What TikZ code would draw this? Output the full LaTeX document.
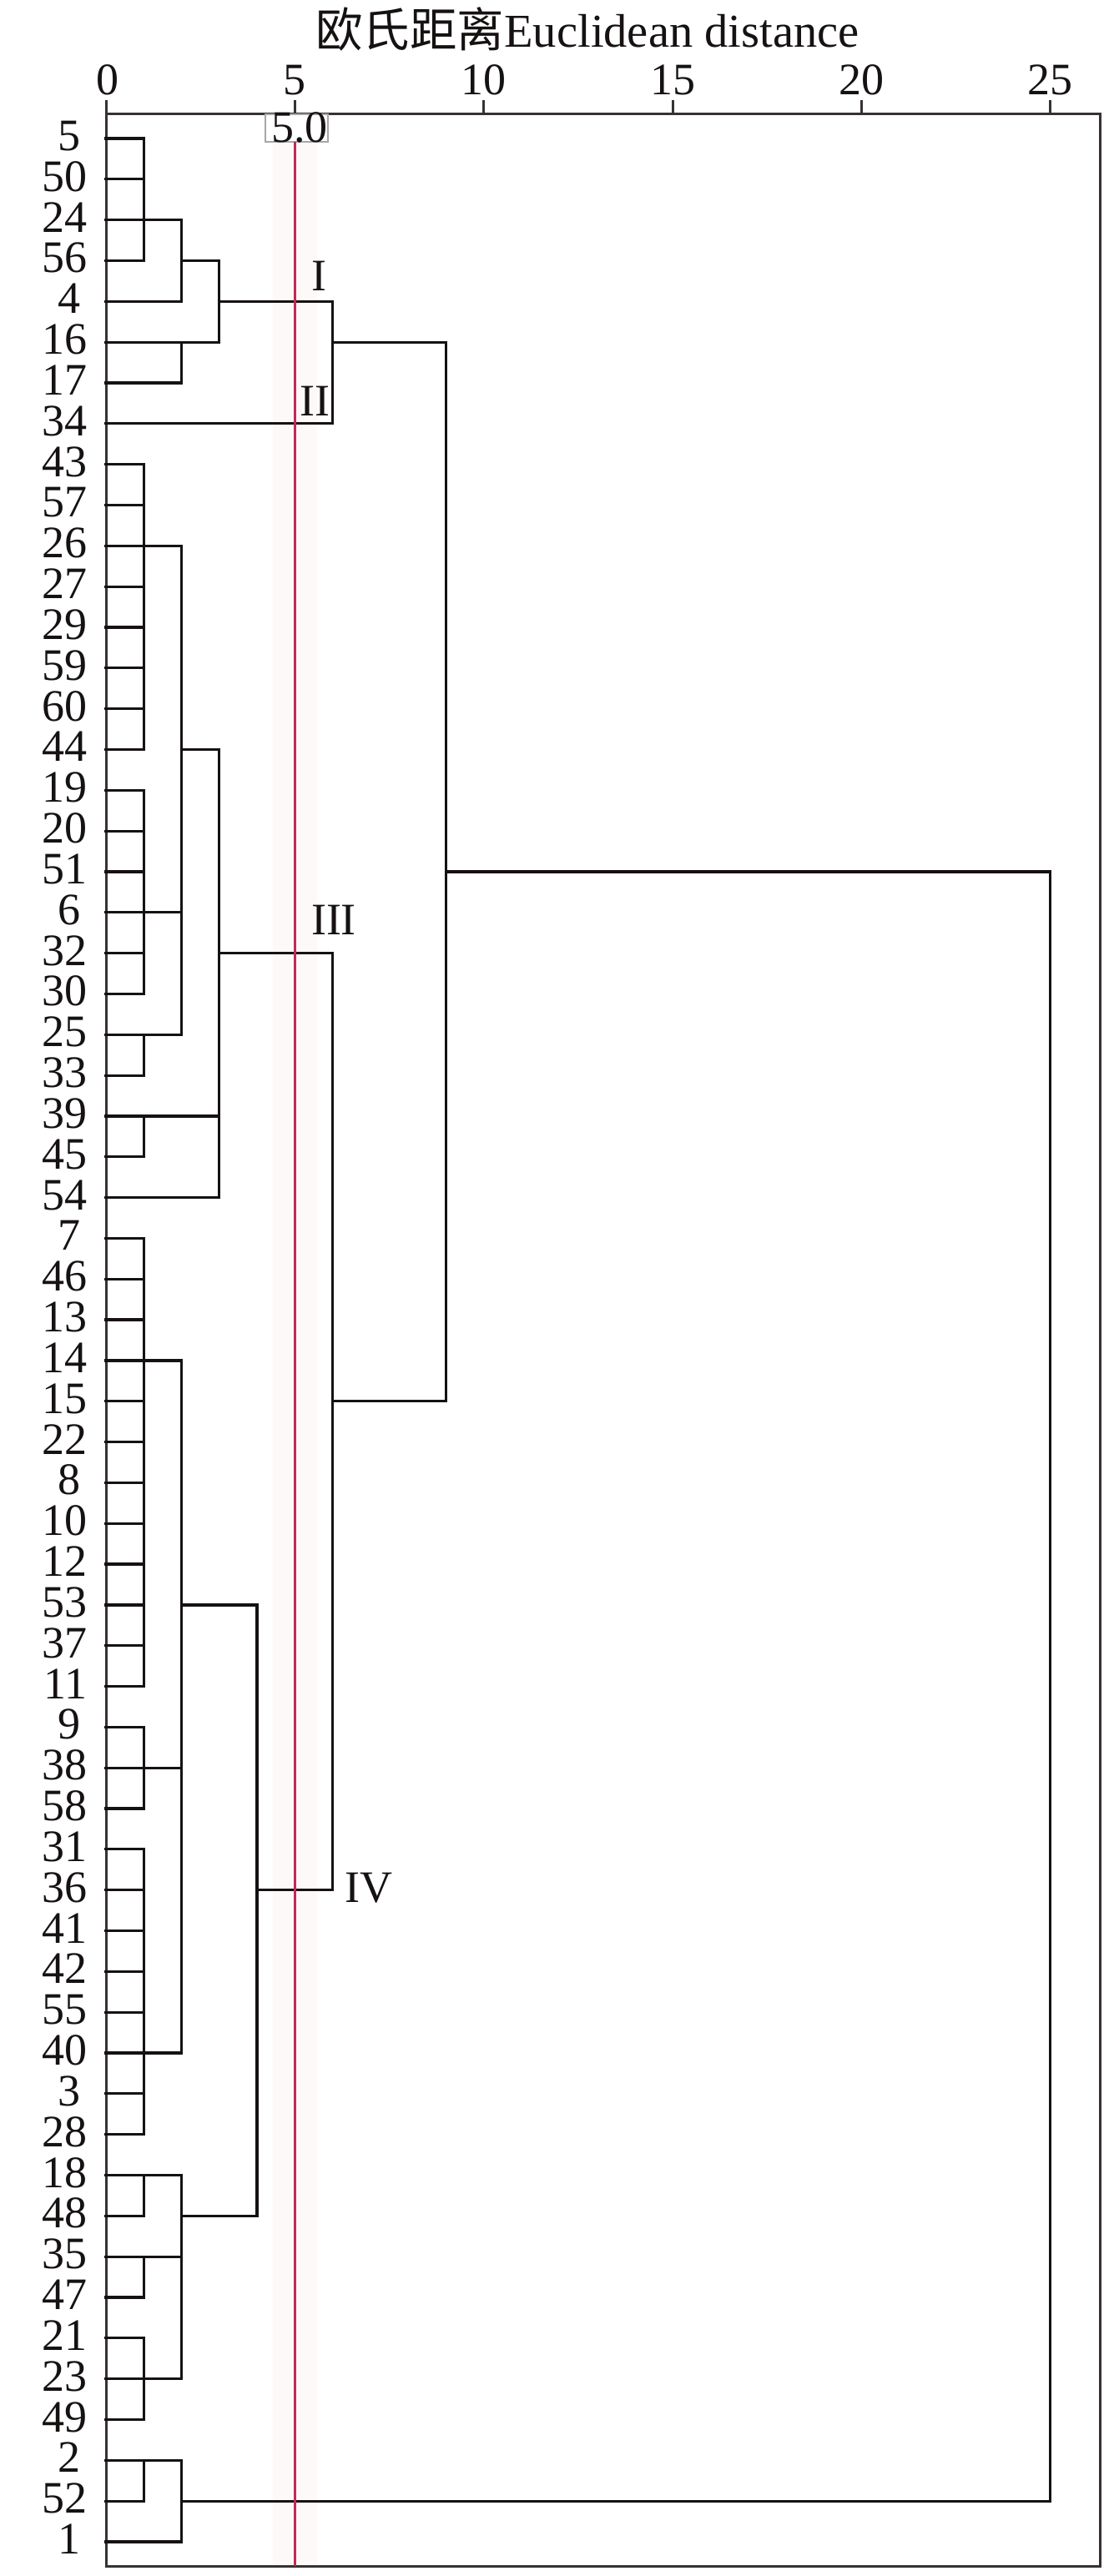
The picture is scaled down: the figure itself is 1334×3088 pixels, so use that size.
\documentclass[tikz,border=0pt]{standalone}
\usepackage{fontspec}
\setmainfont{Liberation Serif}
\newfontfamily\cjk{Noto Sans CJK SC}
\definecolor{redline}{RGB}{196,40,84}
\definecolor{bandc}{RGB}{253,249,249}
\definecolor{ink}{RGB}{22,18,18}
\definecolor{framec}{RGB}{55,50,50}
\newcommand\dhseg[3]{\draw[dl] ({127+45.27*(#1)},{166+48.83*(#3)}) -- ({127+45.27*(#2)},{166+48.83*(#3)});}
\newcommand\dvseg[3]{\draw[dl] ({127+45.27*(#1)},{166+48.83*(#2)}) -- ({127+45.27*(#1)},{166+48.83*(#3)});}
\begin{document}
\begin{tikzpicture}[x=1pt,y=-1pt,
  dl/.style={draw=ink,line width=3.2pt,line cap=rect},
  framel/.style={draw=framec,line width=3pt,line cap=rect},
  txt/.style={inner sep=0pt,font=\fontsize{54}{54}\selectfont,text=ink},
  leaf/.style={txt,anchor=base east},
  ticklab/.style={txt,anchor=base},
  roman/.style={txt,anchor=base}]
\useasboundingbox (0,0) rectangle (1334,3088);
\fill[white] (0,0) rectangle (1334,3088);
% faint band around the red line
\fill[bandc] (327,170) rectangle (380,3076);
% title
\node[txt,anchor=base] (title) at (704,57) {\fontsize{56.5}{56.5}\selectfont{\cjk 欧氏距离}Euclidean distance};
% frame and axis
\draw[framel] (127,122) -- (127,3076) -- (1318,3076) -- (1318,137) -- (127,137);
\foreach \t [count=\k from 1] in {5,10,15,20,25} {
  \draw[framel] ({127+45.27*\t},122) -- ({127+45.27*\t},137);
  \node[ticklab] (tick\k) at ({127+45.27*\t},114) {\t};
}
\node[ticklab] (tick0) at (129,114) {0};
% leaf labels
\foreach \lab [count=\i from 0] in {5,50,24,56,4,16,17,34,43,57,26,27,29,59,60,44,19,20,51,6,32,30,25,33,39,45,54,7,46,13,14,15,22,8,10,12,53,37,11,9,38,58,31,36,41,42,55,40,3,28,18,48,35,47,21,23,49,2,52,1} {
  \ifnum\lab<10
    \node[leaf] (L\i) at (97,{166+48.83*\i+14.5}) {\lab};
  \else
    \node[leaf] (L\i) at (105,{166+48.83*\i+14.5}) {\lab};
  \fi
}
% ---- cluster I / II
\foreach \r in {0,...,3} {\dhseg{0}{1}{\r}}
\dvseg{1}{0}{3}
\dhseg{1}{2}{2}
\dhseg{0}{2}{4}
\dvseg{2}{2}{4}
\dhseg{2}{3}{3}
\dhseg{0}{3}{5}
\dhseg{0}{2}{6}
\dvseg{2}{5}{6}
\dvseg{3}{3}{5}
\dhseg{3}{6}{4}
\dhseg{0}{6}{7}
\dvseg{6}{4}{7}
\dhseg{6}{9}{5}
% ---- cluster III
\foreach \r in {8,...,15} {\dhseg{0}{1}{\r}}
\dvseg{1}{8}{15}
\dhseg{1}{2}{10}
\foreach \r in {16,...,21} {\dhseg{0}{1}{\r}}
\dvseg{1}{16}{21}
\dhseg{1}{2}{19}
\dhseg{0}{2}{22}
\dhseg{0}{1}{23}
\dvseg{1}{22}{23}
\dvseg{2}{10}{22}
\dhseg{2}{3}{15}
\dhseg{0}{3}{24}
\dhseg{0}{1}{25}
\dvseg{1}{24}{25}
\dhseg{0}{3}{26}
\dvseg{3}{15}{26}
\dhseg{3}{6}{20}
% ---- cluster IV
\foreach \r in {27,...,38} {\dhseg{0}{1}{\r}}
\dvseg{1}{27}{38}
\dhseg{1}{2}{30}
\foreach \r in {39,...,41} {\dhseg{0}{1}{\r}}
\dvseg{1}{39}{41}
\dhseg{1}{2}{40}
\foreach \r in {42,...,49} {\dhseg{0}{1}{\r}}
\dvseg{1}{42}{49}
\dhseg{1}{2}{47}
\dvseg{2}{30}{47}
\dhseg{2}{4}{36}
\dhseg{0}{2}{50}
\dhseg{0}{1}{51}
\dvseg{1}{50}{51}
\dhseg{0}{2}{52}
\dhseg{0}{1}{53}
\dvseg{1}{52}{53}
\foreach \r in {54,...,56} {\dhseg{0}{1}{\r}}
\dvseg{1}{54}{56}
\dhseg{1}{2}{55}
\dvseg{2}{50}{55}
\dhseg{2}{4}{51}
\dvseg{4}{36}{51}
\dhseg{4}{6}{43}
\dvseg{6}{20}{43}
\dhseg{6}{9}{31}
\dvseg{9}{5}{31}
\dhseg{9}{25}{18}
% ---- last cluster
\dhseg{0}{2}{57}
\dhseg{0}{1}{58}
\dvseg{1}{57}{58}
\dhseg{0}{2}{59}
\dvseg{2}{57}{59}
\dhseg{2}{25}{58}
\dvseg{25}{18}{58}
% ---- cut line at 5.0
\draw[draw=gray!70,line width=1.6pt] (318,137) rectangle (393,170);
\node[txt,anchor=base] (cut) at (359,171) {5.0};
\draw[draw=redline,line width=3.2pt] (353.4,170) -- (353.4,3076);
% cluster labels
\node[roman] (rI) at (382,348) {I};
\node[roman] (rII) at (377,498) {II};
\node[roman] (rIII) at (400,1120) {III};
\node[txt,anchor=base west] (rIV) at (413,2280) {IV};
\end{tikzpicture}
\end{document}
